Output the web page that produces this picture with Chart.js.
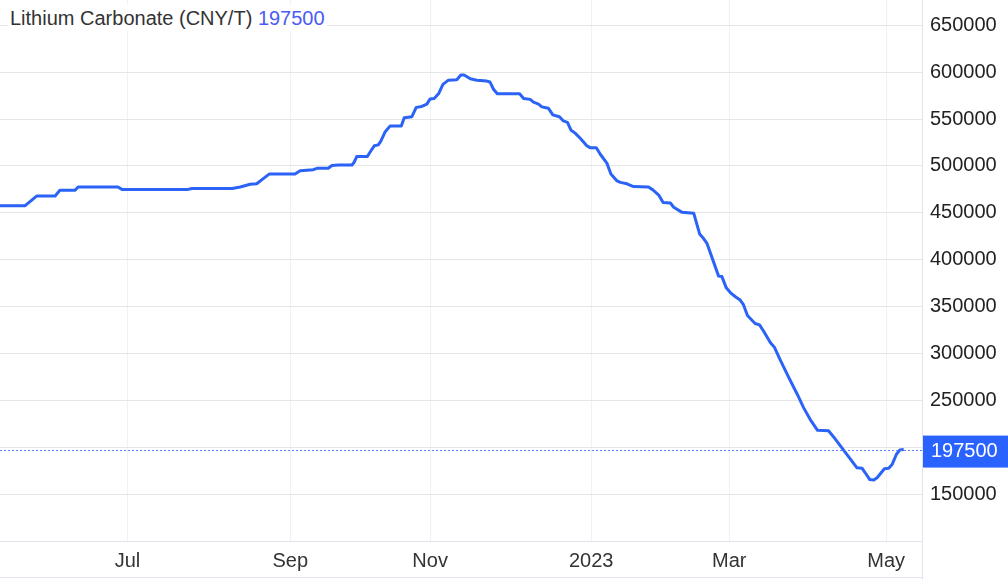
<!DOCTYPE html>
<html>
<head>
<meta charset="utf-8">
<script src="https://cdn.jsdelivr.net/npm/chart.js@4.4.0/dist/chart.umd.min.js"></script>
<style>
    body { margin: 0; background: #fff; }
    #wrap { position: relative; width: 1008px; height: 580px; }
    #title {
        position: absolute; left: 8px; top: 5px; padding: 0 2px;
        background: #fff; font: 20px "Liberation Sans", Arial, sans-serif;
        color: #333; line-height: 26px; white-space: nowrap;
    }
    #title span { color: #4a5cf3; }
</style>
</head>
<body>
<div id="wrap">
    <canvas id="chart" width="1008" height="580"></canvas>
    <div id="title">Lithium Carbonate (CNY/T) <span>197500</span></div>
</div>
<script>
// trading-day index since mid May 2022
const days = [
    0, 6.8, 10.1, 15.1, 16.4, 20.5, 21.4, 32.3, 33.4, 51.5, 52.6, 63.6, 65.8, 68.5, 70.3,
    72.1, 73.8, 80.8, 82.2, 85.8, 86.8, 89.9, 90.9, 92.7, 96.4, 97.0, 97.7, 100.6, 101.8,
    102.5, 103.6, 104.3, 105.5, 106.8, 109.9, 110.7, 112.8, 114.0, 115.5, 116.9, 117.8,
    118.9, 120.1, 121.3, 122.8, 125.1, 126.2, 127.1, 128.8, 130.6, 133.3, 134.2, 135.2,
    136.2, 142.3, 143.4, 145.2, 146.1, 147.5, 148.4, 150.2, 151.4, 153.2, 154.3, 155.4,
    156.4, 157.5, 158.9, 160.7, 161.6, 163.3, 164.4, 166.2, 167.3, 169.0, 169.9, 171.7,
    173.5, 177.6, 178.8, 180.4, 181.6, 183.6, 184.5, 186.8, 190.0, 191.6, 192.5, 193.6,
    196.8, 197.7, 198.9, 200.0, 201.4, 202.7, 203.6, 204.7, 206.8, 208.0, 209.1, 211.0,
    212.1, 213.7, 216.0, 218.4, 220.1, 221.9, 223.9, 226.9, 228.3, 234.7, 236.1, 237.0,
    238.2, 239.3, 240.2, 242.2, 243.4, 244.3, 245.5, 246.4, 247.5
];
const prices = [
    457500, 457500, 468000, 468000, 474000, 474000, 477500, 477500, 475000, 475000, 476000,
    476000, 477500, 480500, 481000, 486500, 491500, 491500, 495000, 496000, 497500, 497500,
    500500, 501000, 501000, 504000, 510000, 510000, 517500, 521500, 522500, 526500, 536500,
    542500, 542500, 551500, 552500, 562500, 563500, 566000, 571500, 572000, 577000, 587000,
    591500, 592000, 597000, 597000, 593000, 591500, 590500, 589500, 581500, 577000, 577000,
    572000, 571000, 568000, 566000, 563000, 561500, 554500, 552500, 548000, 546500, 538000,
    535000, 529500, 521500, 519500, 519500, 512500, 503000, 491500, 484000, 482500, 481000,
    478000, 477500, 474500, 469000, 461000, 460500, 456000, 450500, 449500, 427500, 423500,
    417500, 382500, 382000, 370000, 365000, 360500, 357000, 352000, 340500, 332000, 330500,
    324000, 311500, 306500, 293000, 274500, 256000, 242000, 229500, 218000, 217500, 211000,
    178000, 177500, 172500, 165500, 165000, 167500, 177000, 177500, 181500, 192500, 197000,
    197500
];
const tickDays = [34.9, 79.5, 117.8, 161.9, 199.7, 242.7];
const tickLabels = ['Jul', 'Sep', 'Nov', '2023', 'Mar', 'May'];
const priceTicks = [100000, 150000, 200000, 250000, 300000, 350000, 400000, 450000, 500000, 550000, 600000, 650000];
const lastPrice = 197500;

const FONT = '"Liberation Sans", Arial, sans-serif';
const BLUE = '#2b63f6';

const lastPricePlugin = {
    id: 'lastPrice',
    afterDraw(chart) {
        const ctx = chart.ctx;
        const area = chart.chartArea;
        const y = chart.scales.y.getPixelForValue(lastPrice);

        ctx.save();
        // frame lines past the plot area
        ctx.strokeStyle = '#e0e3eb';
        ctx.lineWidth = 1;
        ctx.beginPath();
        ctx.moveTo(area.right + 0.5, 0);
        ctx.lineTo(area.right + 0.5, chart.height);
        ctx.moveTo(0, chart.height - 2.5);
        ctx.lineTo(area.right, chart.height - 2.5);
        ctx.stroke();

        ctx.strokeStyle = '#5f84fb';
        ctx.setLineDash([2, 2]);
        ctx.beginPath();
        ctx.moveTo(area.left, Math.round(y) + 0.5);
        ctx.lineTo(area.right, Math.round(y) + 0.5);
        ctx.stroke();
        ctx.setLineDash([]);

        ctx.fillStyle = '#2962ff';
        ctx.fillRect(area.right + 1, y - 14, chart.width - area.right - 1, 32);
        ctx.fillStyle = '#fff';
        ctx.font = '20px ' + FONT;
        ctx.textBaseline = 'middle';
        ctx.textAlign = 'left';
        ctx.fillText(lastPrice, area.right + 9, y + 2);
        ctx.restore();
    }
};

new Chart(document.getElementById('chart').getContext('2d'), {
    type: 'line',
    data: {
        datasets: [{
            data: days.map((d, i) => ({ x: d, y: prices[i] })),
            borderColor: BLUE,
            borderWidth: 3,
            borderJoinStyle: 'round',
            pointRadius: 0,
            tension: 0,
            fill: false
        }]
    },
    options: {
        responsive: false,
        animation: false,
        layout: { padding: 0 },
        plugins: {
            legend: { display: false },
            tooltip: { enabled: false }
        },
        scales: {
            x: {
                type: 'linear',
                min: 0,
                max: 252.5,
                afterBuildTicks: scale => {
                    scale.ticks = tickDays.map(v => ({ value: v }));
                },
                afterFit: scale => {
                    scale.height = 39;
                    scale.paddingLeft = 0;
                    scale.paddingRight = 0;
                },
                ticks: {
                    padding: 8,
                    maxRotation: 0,
                    autoSkip: false,
                    color: '#333',
                    font: { family: FONT, size: 20 },
                    callback: (v, i) => tickLabels[i]
                },
                grid: { color: '#eef2f8', drawTicks: false },
                border: { color: '#e0e3eb' }
            },
            y: {
                position: 'right',
                min: 100000,
                max: 677000,
                afterBuildTicks: scale => {
                    scale.ticks = priceTicks.map(v => ({ value: v }));
                },
                afterFit: scale => {
                    scale.width = 86;
                    scale.paddingTop = 0;
                    scale.paddingBottom = 0;
                },
                ticks: {
                    padding: 8,
                    color: '#222',
                    font: { family: FONT, size: 20 },
                    callback: v => (v === 100000 ? '' : v)
                },
                grid: { color: '#e6e6e6', drawTicks: false },
                border: { color: '#e0e3eb' }
            }
        }
    },
    plugins: [lastPricePlugin]
});
</script>
</body>
</html>
